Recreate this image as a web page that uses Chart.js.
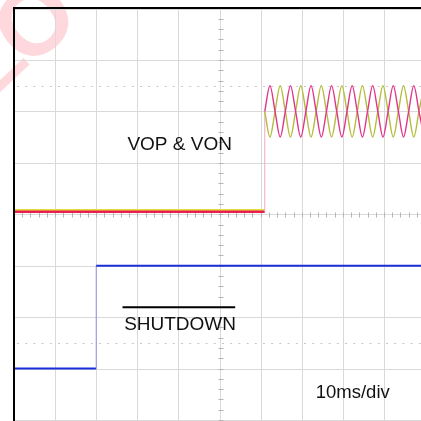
<!DOCTYPE html>
<html><head><meta charset="utf-8">
<script src="https://cdn.jsdelivr.net/npm/chart.js@4.4.1/dist/chart.umd.min.js"></script>
<style>html,body{margin:0;padding:0;background:#fff;overflow:hidden}canvas{display:block}</style>
</head><body>
<canvas id="c" width="421" height="421"></canvas>
<script>
// ---- data (time in ms, 10 ms/div; vertical in divisions) ----
const xDivTicks = [0, 10, 20, 30, 40, 50, 60, 70, 80, 90];
const yDivTicks = [-4, -3, -2, -1, 0, 1, 2, 3, 4];
const cursorLevels = [2.5, -2.5];

const shutdownTime = [0, 20.0, 20.0, 99.0];
const shutdownVolt = [-3.0, -3.0, -1.0, -1.0];

const vopFlatTime = [0, 61.0, 61.0];
const vopFlatVolt = [0.05, 0.05, 2.0];
const vonFlatTime = [0, 61.0];
const vonFlatVolt = [0.08, 0.08];

const sineTime = [61.0, 62.25, 63.5, 64.75, 66.0, 67.25, 68.5, 69.75, 71.0, 72.25, 73.5, 74.75,
  76.0, 77.25, 78.5, 79.75, 81.0, 82.25, 83.5, 84.75, 86.0, 87.25, 88.5, 89.75, 91.0, 92.25,
  93.5, 94.75, 96.0, 97.25, 98.5, 99.75];
const vopVolt = [2.0, 2.5, 2.0, 1.5, 2.0, 2.5, 2.0, 1.5, 2.0, 2.5, 2.0, 1.5, 2.0, 2.5, 2.0, 1.5,
  2.0, 2.5, 2.0, 1.5, 2.0, 2.5, 2.0, 1.5, 2.0, 2.5, 2.0, 1.5, 2.0, 2.5, 2.0, 1.5];
const vonVolt = [2.0, 1.5, 2.0, 2.5, 2.0, 1.5, 2.0, 2.5, 2.0, 1.5, 2.0, 2.5, 2.0, 1.5, 2.0, 2.5,
  2.0, 1.5, 2.0, 2.5, 2.0, 1.5, 2.0, 2.5, 2.0, 1.5, 2.0, 2.5, 2.0, 1.5, 2.0, 2.5];

const labelTexts = ['VOP & VON', 'SHUTDOWN', '10ms/div'];
const watermarkGlyphs = ['O', '\u2013'];

// ---- build ----
const pts = (xs, ys) => xs.map((x, i) => ({x, y: ys[i]}));
const isVert = c => c.p0.parsed.x === c.p1.parsed.x;

const datasets = [
  {data: pts(sineTime, vopVolt), borderColor: '#e2358a', borderWidth: 1.4, cubicInterpolationMode: 'monotone', order: 1},
  {data: pts(sineTime, vonVolt), borderColor: '#b5bd3c', borderWidth: 1.4, cubicInterpolationMode: 'monotone', order: 2},
  {data: pts(vopFlatTime, vopFlatVolt), borderColor: '#e8204f', borderWidth: 2.5, order: 3,
   segment: {borderColor: c => isVert(c) ? '#f2a7c6' : undefined, borderWidth: c => isVert(c) ? 1 : undefined}},
  {data: pts(vonFlatTime, vonFlatVolt), borderColor: '#e3df3a', borderWidth: 2.5, order: 4},
  {data: pts(shutdownTime, shutdownVolt), borderColor: '#1b2fd8', borderWidth: 2, order: 5,
   segment: {borderColor: c => isVert(c) ? '#8f8fe6' : undefined, borderWidth: c => isVert(c) ? 1 : undefined}}
];

const labelPos = [
  {x: 40.3, y: 1.36, size: 19},
  {x: 40.4, y: -2.15, size: 19},
  {x: 82.4, y: -3.47, size: 18.5}
];
const watermarkPos = [
  {cx: 38, cy: 26, rot: -0.7, size: 96},
  {cx: 10, cy: 76, rot: -0.75, size: 90}
];

const scopePlugin = {
  id: 'scope',
  beforeDatasetsDraw(chart) {
    const {ctx, chartArea: a, scales: {x, y}} = chart;
    ctx.save();
    // watermark
    watermarkGlyphs.forEach((g, i) => {
      const w = watermarkPos[i];
      ctx.save();
      ctx.translate(w.cx, w.cy);
      ctx.rotate(w.rot);
      ctx.fillStyle = 'rgba(250,60,80,0.2)';
      ctx.font = 'bold ' + w.size + 'px "Liberation Sans", Arial, sans-serif';
      ctx.textAlign = 'center';
      ctx.textBaseline = 'middle';
      ctx.fillText(g, 0, 0);
      ctx.restore();
    });
    // grid
    ctx.strokeStyle = '#d9d9d9';
    ctx.lineWidth = 1;
    ctx.beginPath();
    xDivTicks.forEach(v => { const p = Math.round(x.getPixelForValue(v)) + 0.5; ctx.moveTo(p, a.top); ctx.lineTo(p, a.bottom); });
    yDivTicks.forEach(v => { const p = Math.round(y.getPixelForValue(v)) + 0.5; ctx.moveTo(a.left, p); ctx.lineTo(a.right, p); });
    ctx.stroke();
    // center ticks
    const cx = Math.round(x.getPixelForValue(50)) + 0.5;
    const cy = Math.round(y.getPixelForValue(0)) + 0.5;
    ctx.strokeStyle = '#b5b5b5';
    ctx.beginPath();
    for (let v = -4; v <= 4.001; v += 0.2) { const p = Math.round(y.getPixelForValue(v)) + 0.5; ctx.moveTo(cx - 2, p); ctx.lineTo(cx + 3, p); }
    for (let v = 0; v <= 100; v += 2) { const p = Math.round(x.getPixelForValue(v)) + 0.5; if (p > a.right) break; ctx.moveTo(p, cy - 2); ctx.lineTo(p, cy + 3); }
    ctx.stroke();
    // cursor dotted lines
    ctx.strokeStyle = '#c8c8c8';
    ctx.setLineDash([2, 6.2]);
    ctx.beginPath();
    cursorLevels.forEach(v => { const p = Math.round(y.getPixelForValue(v)) + 0.5; ctx.moveTo(a.left + 3, p); ctx.lineTo(a.right, p); });
    ctx.stroke();
    ctx.setLineDash([]);
    ctx.restore();
  },
  afterDatasetsDraw(chart) {
    const {ctx, chartArea: a, scales: {x, y}} = chart;
    ctx.save();
    // frame
    ctx.strokeStyle = '#000';
    ctx.lineWidth = 2;
    ctx.beginPath();
    ctx.moveTo(a.left, a.bottom + 2); ctx.lineTo(a.left, a.top - 0.5); ctx.lineTo(a.right, a.top - 0.5);
    ctx.stroke();
    // labels
    ctx.fillStyle = '#111';
    ctx.textAlign = 'center';
    ctx.textBaseline = 'middle';
    labelTexts.forEach((t, i) => {
      const L = labelPos[i];
      ctx.font = L.size + 'px "Liberation Sans", Arial, sans-serif';
      ctx.fillText(t, x.getPixelForValue(L.x), y.getPixelForValue(L.y));
    });
    // overline on SHUTDOWN
    ctx.lineWidth = 2;
    ctx.beginPath();
    const oy = y.getPixelForValue(-1.81);
    ctx.moveTo(x.getPixelForValue(26.4), oy); ctx.lineTo(x.getPixelForValue(53.8), oy);
    ctx.stroke();
    ctx.restore();
  }
};

new Chart(document.getElementById('c'), {
  type: 'line',
  data: {datasets},
  options: {
    responsive: false,
    animation: false,
    devicePixelRatio: 1,
    layout: {padding: {left: 14, top: 8.5, right: 0, bottom: 1}},
    elements: {point: {radius: 0}, line: {tension: 0}},
    scales: {
      x: {type: 'linear', min: 0, max: 99.0, display: false},
      y: {type: 'linear', min: -4, max: 4, display: false}
    },
    plugins: {legend: {display: false}, tooltip: {enabled: false}}
  },
  plugins: [scopePlugin]
});
</script>
</body></html>
